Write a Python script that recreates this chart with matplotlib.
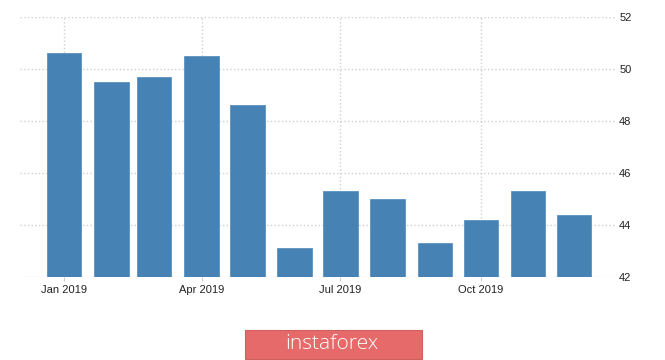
import matplotlib
matplotlib.use('Agg')
import matplotlib.pyplot as plt
import matplotlib.dates as mdates
from matplotlib.patches import Rectangle
import pandas as pd

# monthly values 2019
months = pd.date_range('2019-01-01', periods=12, freq='MS')
values = [50.6, 49.5, 49.7, 50.5, 48.6, 43.1, 45.3, 45.0, 43.3, 44.2, 45.3, 44.4]
tick_dates = pd.to_datetime(['2019-01-01', '2019-04-01', '2019-07-01', '2019-10-01'])
tick_labels = ['Jan 2019', 'Apr 2019', 'Jul 2019', 'Oct 2019']
y_ticks = [42, 44, 46, 48, 50, 52]

plt.rcParams['font.family'] = ['Liberation Sans', 'DejaVu Sans']

fig = plt.figure(figsize=(6.65, 3.6), dpi=100)
ax = fig.add_axes([20/665, 83/360, 595/665, 260/360])

ax.bar(months, [v - 42 for v in values], bottom=42, width=22.6,
       color='#4682b4', edgecolor='#5b93c2', linewidth=0.6, zorder=3)

ax.set_xlim(pd.Timestamp('2018-12-03'), pd.Timestamp('2019-12-28'))
ax.set_ylim(42, 52)
ax.set_xticks(tick_dates)
ax.set_xticklabels(tick_labels)
ax.set_yticks(y_ticks)
ax.yaxis.tick_right()

ax.grid(True, color='#cfcfcf', linestyle=':', linewidth=1, zorder=0)
for s in ax.spines.values():
    s.set_visible(False)
ax.tick_params(axis='y', length=0, pad=3, labelsize=8, labelcolor='#222222')
ax.tick_params(axis='x', length=3, color='#cfcfcf', pad=3, labelsize=8, labelcolor='#222222')

# watermark
fig.patches.append(Rectangle((245/665, 1 - 359/360), 177/665, 29/360,
                             transform=fig.transFigure, facecolor='#e66a6a',
                             edgecolor='#d06060', linewidth=0.8))
fig.text(332/665, 1 - 344/360, 'instaforex', color='white', fontsize=15,
         ha='center', va='center', family=['Open Sans', 'DejaVu Sans'], fontweight='light')

fig.savefig('out.png', dpi=100)
